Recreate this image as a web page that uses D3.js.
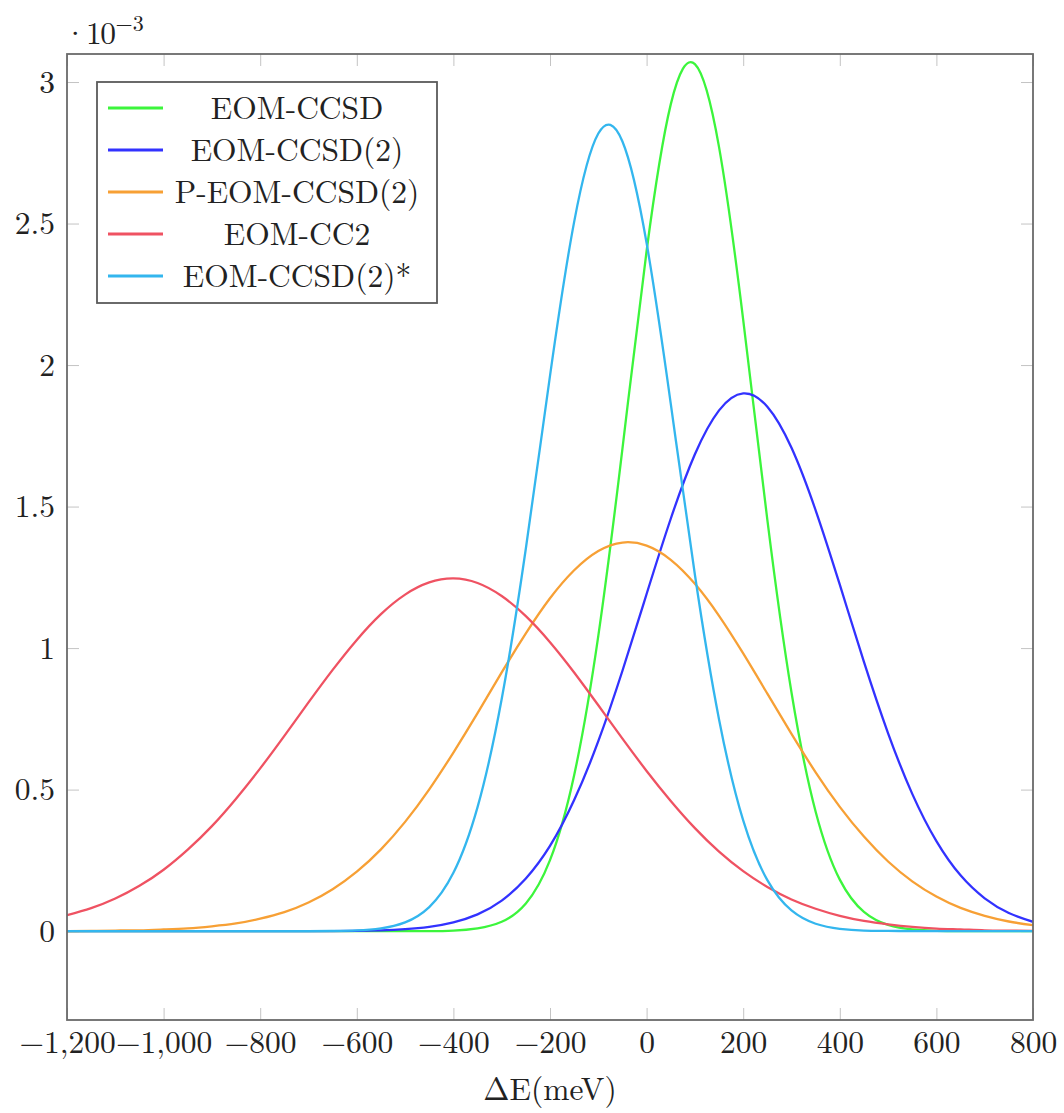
<!DOCTYPE html>
<html><head><meta charset="utf-8">
<script src="https://cdn.jsdelivr.net/npm/d3@7"></script>
<style>body{margin:0;background:#fff}</style>
</head><body><svg id="c" width="1064" height="1113"></svg>
<script>
// ΔE grid (meV)
const energy = [-1200,-1150,-1100,-1050,-1000,-950,-900,-850,-800,-750,-700,-650,-600,-550,-500,-450,-400,-350,-300,-250,-200,-150,-100,-50,0,50,100,150,200,250,300,350,400,450,500,550,600,650,700,750,800];
// series values (×10^-3)
const eomCCSD = [0,0,0,0,0,0,0,0,0,0,0,0,0,0,0,0,0.002,0.010,0.033,0.098,0.251,0.551,1.043,1.705,2.403,2.921,3.063,2.770,2.160,1.453,0.843,0.422,0.182,0.068,0.022,0.006,0.001,0,0,0,0];
const eomCCSD2 = [0,0,0,0,0,0,0,0,0,0,0,0,0.001,0.003,0.007,0.015,0.031,0.059,0.108,0.186,0.301,0.463,0.671,0.920,1.191,1.457,1.685,1.840,1.900,1.853,1.708,1.487,1.224,0.951,0.699,0.485,0.318,0.197,0.116,0.064,0.033];
const pEomCCSD2 = [0.000,0.001,0.002,0.003,0.006,0.010,0.017,0.027,0.044,0.067,0.101,0.148,0.210,0.289,0.386,0.501,0.631,0.770,0.914,1.052,1.176,1.275,1.343,1.373,1.362,1.312,1.227,1.114,0.981,0.839,0.697,0.561,0.439,0.334,0.246,0.176,0.122,0.082,0.054,0.034,0.021];
const eomCC2 = [0.056,0.081,0.115,0.160,0.217,0.288,0.371,0.468,0.575,0.690,0.808,0.923,1.029,1.120,1.189,1.232,1.246,1.230,1.184,1.113,1.021,0.914,0.798,0.680,0.566,0.460,0.364,0.281,0.212,0.156,0.112,0.079,0.054,0.036,0.024,0.015,0.009,0.006,0.003,0.002,0.001];
const eomCCSD2star = [0,0,0,0,0,0,0,0,0,0,0,0.001,0.003,0.010,0.031,0.085,0.206,0.438,0.820,1.352,1.962,2.506,2.818,2.790,2.431,1.864,1.259,0.748,0.391,0.180,0.073,0.026,0.008,0.002,0.001,0,0,0,0,0,0];

const seriesNames = ["EOM-CCSD","EOM-CCSD(2)","P-EOM-CCSD(2)","EOM-CC2","EOM-CCSD(2)*"];
const seriesColors = ["#3cf53c","#3232ff","#f7a035","#ef5262","#33b6ee"];
const seriesValues = [eomCCSD, eomCCSD2, pEomCCSD2, eomCC2, eomCCSD2star];
const xTicks = [-1200,-1000,-800,-600,-400,-200,0,200,400,600,800];
const yTicks = [0,0.5,1,1.5,2,2.5,3];
const xLabel = "ΔE(meV)";

const FONT = "\"Latin Modern Roman\", \"Liberation Serif\", serif";
const FS = 31.5;
const svg = d3.select("#c");
const L = 67, R = 1033, T = 54, B = 1020;
const x = d3.scaleLinear().domain([-1200, 800]).range([L, R]);
const y = d3.scaleLinear().domain([-0.314, 3.099]).range([B, T]);

svg.append("defs").append("clipPath").attr("id","clip")
  .append("rect").attr("x",L).attr("y",T).attr("width",R-L).attr("height",B-T);

function styleAxis(g, labels){
  g.select(".domain").remove();
  g.attr("font-family",FONT).attr("font-size",FS);
  g.selectAll(".tick line").attr("stroke","#c4c4c4").attr("stroke-width",1);
  if(!labels) g.selectAll(".tick text").remove();
  else g.selectAll(".tick text").attr("fill","#222").attr("font-family",FONT).attr("font-size",FS);
}
svg.append("g").attr("transform",`translate(0,${B})`)
  .call(d3.axisBottom(x).tickValues(xTicks).tickSize(-12).tickPadding(11).tickFormat(d3.format(",")))
  .call(g=>styleAxis(g,true));
svg.append("g").attr("transform",`translate(0,${T})`)
  .call(d3.axisTop(x).tickValues(xTicks).tickSize(-12))
  .call(g=>styleAxis(g,false));
svg.append("g").attr("transform",`translate(${L},0)`)
  .call(d3.axisLeft(y).tickValues(yTicks).tickSize(-12).tickPadding(12).tickFormat(d3.format("")))
  .call(g=>styleAxis(g,true));
svg.append("g").attr("transform",`translate(${R},0)`)
  .call(d3.axisRight(y).tickValues(yTicks).tickSize(-12))
  .call(g=>styleAxis(g,false));

const line = d3.line().x((d,i)=>x(energy[i])).y(d=>y(d)).curve(d3.curveNatural);
const plot = svg.append("g").attr("clip-path","url(#clip)");
seriesValues.forEach((vals,k)=>{
  plot.append("path").attr("d", line(vals)).attr("fill","none")
    .attr("stroke", seriesColors[k]).attr("stroke-width",2.3).attr("stroke-linejoin","round");
});

svg.append("rect").attr("x",L).attr("y",T).attr("width",R-L).attr("height",B-T)
  .attr("fill","none").attr("stroke","#6a6a6a").attr("stroke-width",1.8);

// legend
const lg = svg.append("g");
lg.append("rect").attr("x",97).attr("y",82).attr("width",340).attr("height",221)
  .attr("fill","#fff").attr("stroke","#5a5a5a").attr("stroke-width",1.8);
seriesNames.forEach((n,k)=>{
  const yy = 108 + k*42;
  lg.append("line").attr("x1",108).attr("x2",163).attr("y1",yy).attr("y2",yy)
    .attr("stroke",seriesColors[k]).attr("stroke-width",2.8);
  lg.append("text").attr("x",297).attr("y",yy).attr("dy","0.35em").attr("text-anchor","middle")
    .attr("font-family",FONT).attr("font-size",FS).attr("fill","#222").text(n);
});

// exponent
const ex = svg.append("text").attr("x",63).attr("y",44).attr("font-family",FONT).attr("font-size",FS).attr("fill","#222");
ex.append("tspan").attr("letter-spacing",-1.5).text("·10");
ex.append("tspan").attr("dy",-13).attr("dx",1).attr("font-size",22).text("−3");

svg.append("text").attr("x",(L+R)/2).attr("y",1100).attr("text-anchor","middle")
  .attr("font-family",FONT).attr("font-size",FS).attr("fill","#222").text(xLabel);
</script></body></html>
